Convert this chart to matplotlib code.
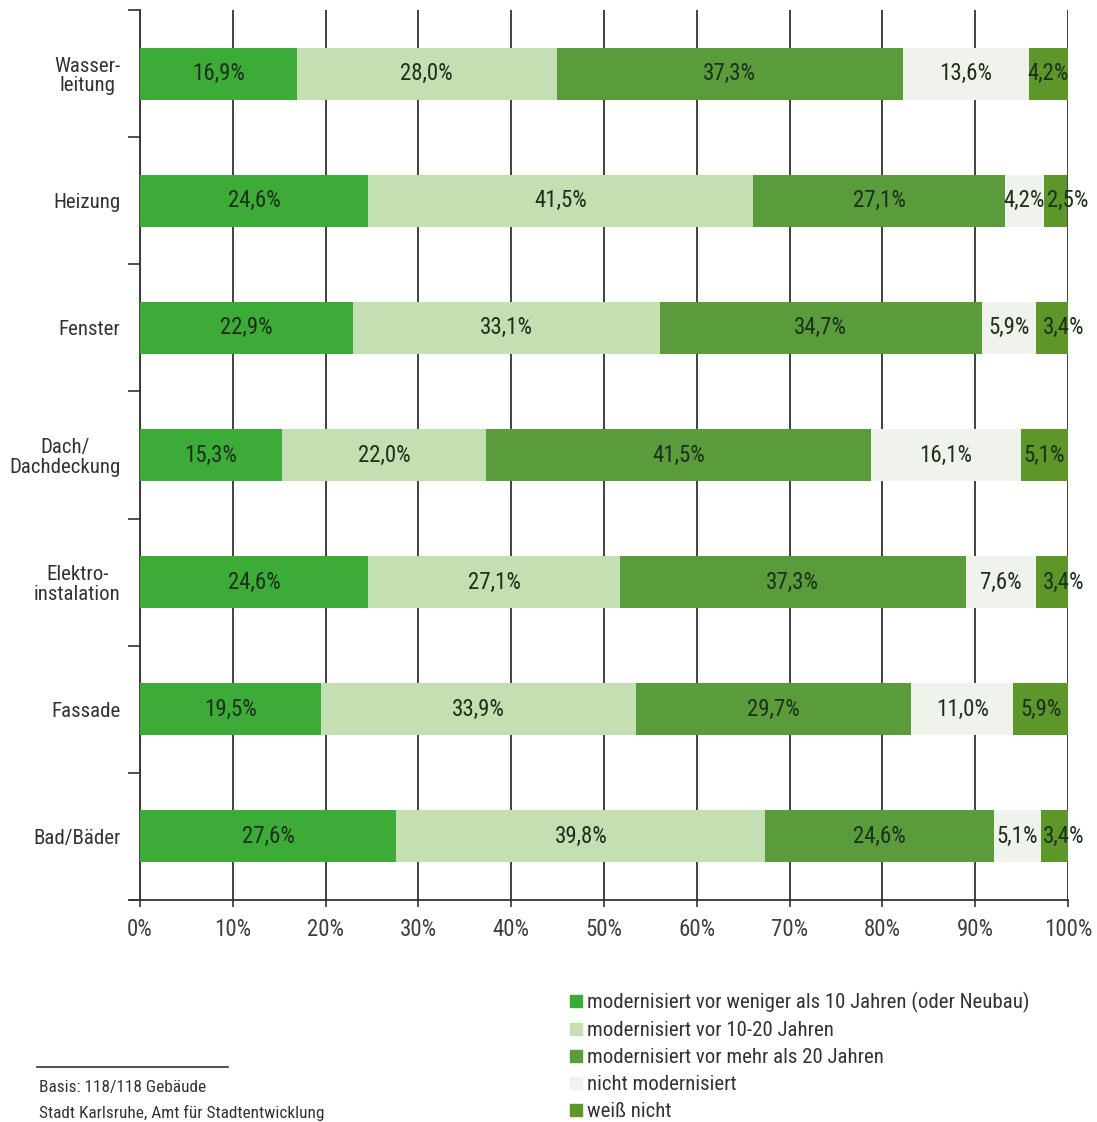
import numpy as np
import matplotlib.pyplot as plt
from matplotlib.lines import Line2D

plt.rcParams['font.family'] = ['Roboto Condensed', 'DejaVu Sans']

categories = ['Wasser-\nleitung', 'Heizung', 'Fenster', 'Dach/\nDachdeckung',
              'Elektro-\ninstalation', 'Fassade', 'Bad/Bäder']

unter_10 = [16.9, 24.6, 22.9, 15.3, 24.6, 19.5, 27.6]
zehn_20 = [28.0, 41.5, 33.1, 22.0, 27.1, 33.9, 39.8]
ueber_20 = [37.3, 27.1, 34.7, 41.5, 37.3, 29.7, 24.6]
nicht_mod = [13.6, 4.2, 5.9, 16.1, 7.6, 11.0, 5.1]
weiss_nicht = [4.2, 2.5, 3.4, 5.1, 3.4, 5.9, 3.4]

series_labels = ['modernisiert vor weniger als 10 Jahren (oder Neubau)',
                 'modernisiert vor 10-20 Jahren',
                 'modernisiert vor mehr als 20 Jahren',
                 'nicht modernisiert',
                 'weiß nicht']
colors = ['#3cab38', '#c4dfb2', '#5a9b3c', '#eff3ec', '#5d9629']

series = [unter_10, zehn_20, ueber_20, nicht_mod, weiss_nicht]

fig = plt.figure(figsize=(10.97, 11.22), dpi=100)
ax = fig.add_axes([0.1276, 0.198, 0.846, 0.793])

y = np.arange(len(categories))
left = np.zeros(len(categories))
for k, (vals, col) in enumerate(zip(series, colors)):
    vals = np.array(vals)
    ax.barh(y, vals, left=left, height=0.41, color=col, zorder=3)
    for yi, l, v in zip(y, left, vals):
        x = l + v / 2
        # thin end segments: label pushed towards the right edge
        if k == len(series) - 1 and v < 4:
            x = 100 - v / 2 + 1.2
        ax.text(x, yi, f'{v:.1f}%'.replace('.', ','), ha='center',
                va='center', fontsize=16.5, color='#1c301c', zorder=4)
    left += vals

ax.set_xlim(0, 100)
ax.set_ylim(len(categories) - 0.5, -0.5)

ax.set_xticks(np.arange(0, 101, 10))
ax.set_xticklabels([f'{v}%' for v in range(0, 101, 10)], fontsize=16.5, color='#404040')
ax.tick_params(axis='x', length=5, width=1.2, color='#333333', pad=8)
ax.grid(axis='x', color='#333333', linewidth=1.3, zorder=0)

ax.set_yticks(y)
ax.set_yticklabels(categories, fontsize=15, color='#333333', linespacing=1.05,
                   multialignment='center')
ax.set_yticks(np.arange(-0.5, len(categories) + 0.5, 1), minor=True)
ax.tick_params(axis='y', which='major', length=0, pad=14)
ax.tick_params(axis='y', which='minor', length=9, width=1.2, color='#333333')

for s in ['top', 'right']:
    ax.spines[s].set_visible(False)
ax.spines['left'].set_color('#333333')
ax.spines['left'].set_linewidth(1.3)
ax.spines['bottom'].set_color('#333333')
ax.spines['bottom'].set_linewidth(1.3)
ax.spines['bottom'].set_bounds(-1.1, 100)

# legend
handles = [Line2D([], [], marker='s', linestyle='none', markersize=9,
                  markerfacecolor=c, markeredgecolor=c) for c in colors]
fig.legend(handles, series_labels, loc='upper left', bbox_to_anchor=(0.508, 0.123),
           frameon=False, fontsize=15, handletextpad=0.05, labelspacing=0.38,
           labelcolor='#333333', borderaxespad=0, handlelength=1.0)

# source note
fig.add_artist(Line2D([0.034, 0.208], [0.049, 0.049], color='#333333', linewidth=1.2))
fig.text(0.036, 0.031, 'Basis: 118/118 Gebäude', fontsize=12.4, color='#333333', va='center')
fig.text(0.036, 0.008, 'Stadt Karlsruhe, Amt für Stadtentwicklung', fontsize=12.4,
         color='#333333', va='center')

fig.savefig('out.png', dpi=100)
